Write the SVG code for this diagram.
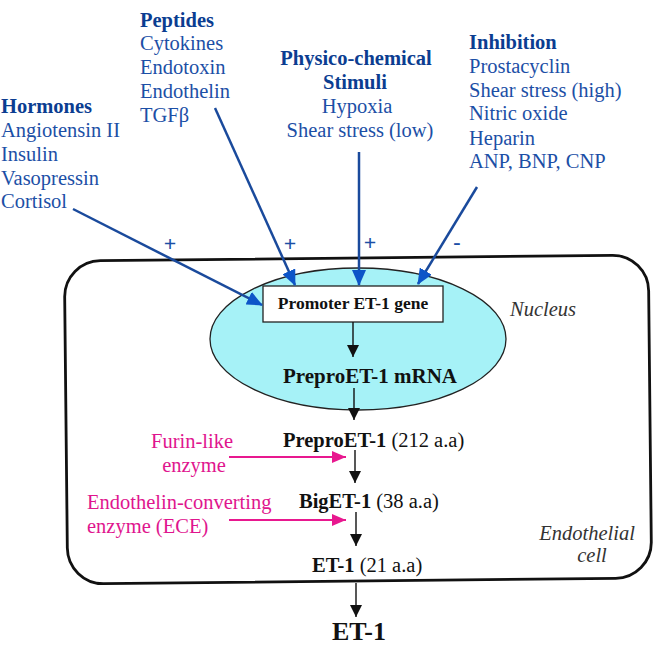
<svg xmlns="http://www.w3.org/2000/svg" width="654" height="663" viewBox="0 0 654 663">
<style>
  text { font-family: "Liberation Serif", "Times New Roman", serif; }
  .hd { font-size: 20.5px; font-weight: bold; fill: #0b3d91; }
  .bl { font-size: 20.5px; fill: #1c4fa6; }
  .sg { font-size: 22px; font-weight: bold; fill: #1c4fa6; }
  .blk { fill: #111; }
  .mg { font-size: 20.5px; fill: #e0158e; }
  .it { font-size: 20.5px; font-style: italic; fill: #333; }
  .bline { stroke: #1a4a9c; stroke-width: 2.5; fill: none; }
  .kline { stroke: #111; stroke-width: 1.4; fill: none; }
  .mline { stroke: #e8188f; stroke-width: 2; fill: none; }
</style>
<defs>
  <marker id="ab" markerUnits="userSpaceOnUse" markerWidth="16" markerHeight="14" refX="15" refY="7" orient="auto">
    <path d="M0,0 L16,7 L0,14 z" fill="#0d55c8"/>
  </marker>
  <marker id="ak" markerUnits="userSpaceOnUse" markerWidth="12" markerHeight="12" refX="12" refY="6" orient="auto">
    <path d="M0,0 L12,6 L0,12 z" fill="#111"/>
  </marker>
  <marker id="am" markerUnits="userSpaceOnUse" markerWidth="14" markerHeight="12" refX="14" refY="6" orient="auto">
    <path d="M0,0 L14,6 L0,12 z" fill="#e8188f"/>
  </marker>
</defs>
<rect width="654" height="663" fill="#fff"/>

<g id="cell">
  <rect x="66" y="258" width="584" height="323" rx="36" ry="36" fill="none" stroke="#111" stroke-width="2.8" transform="rotate(-0.6 358 420)"/>
  <text class="it" x="587" y="540" text-anchor="middle">Endothelial</text>
  <text class="it" x="592" y="562" text-anchor="middle">cell</text>
</g>

<g id="nucleus">
  <ellipse cx="358" cy="339" rx="148" ry="71" fill="#a6f2f7" stroke="#222" stroke-width="1.3"/>
  <text class="it" x="510" y="316">Nucleus</text>
</g>

<g id="promoter">
  <rect x="263" y="286" width="180" height="36" fill="#fff" stroke="#222" stroke-width="1.3"/>
  <text class="blk" x="353" y="309" text-anchor="middle" font-size="17.5" font-weight="bold">Promoter ET-1 gene</text>
</g>

<g id="mrna">
  <text class="blk" x="370" y="383" text-anchor="middle" font-size="21" font-weight="bold">PreproET-1 mRNA</text>
</g>

<g id="preproet1">
  <text class="blk" x="283" y="447" font-size="20.5"><tspan font-weight="bold">PreproET-1</tspan> (212 a.a)</text>
</g>

<g id="biget1">
  <text class="blk" x="299" y="508" font-size="20.5"><tspan font-weight="bold">BigET-1</tspan> (38 a.a)</text>
</g>

<g id="et1-inner">
  <text class="blk" x="312" y="572" font-size="20.5"><tspan font-weight="bold">ET-1</tspan> (21 a.a)</text>
</g>

<g id="et1-out">
  <text class="blk" x="359" y="640" text-anchor="middle" font-size="26" font-weight="bold">ET-1</text>
</g>

<g id="furin">
  <text class="mg" x="192" y="448" text-anchor="middle">Furin-like</text>
  <text class="mg" x="194" y="472" text-anchor="middle">enzyme</text>
</g>

<g id="ece">
  <text class="mg" x="87" y="509">Endothelin-converting</text>
  <text class="mg" x="87" y="533">enzyme (ECE)</text>
</g>

<g id="hormones">
  <text class="hd" x="1" y="113">Hormones</text>
  <text class="bl" x="1" y="137">Angiotensin II</text>
  <text class="bl" x="1" y="161">Insulin</text>
  <text class="bl" x="1" y="185">Vasopressin</text>
  <text class="bl" x="1" y="208">Cortisol</text>
</g>

<g id="peptides">
  <text class="hd" x="140" y="27">Peptides</text>
  <text class="bl" x="140" y="50">Cytokines</text>
  <text class="bl" x="140" y="74">Endotoxin</text>
  <text class="bl" x="140" y="98">Endothelin</text>
  <text class="bl" x="140" y="122">TGFβ</text>
</g>

<g id="physico">
  <text class="hd" x="356" y="65" text-anchor="middle">Physico-chemical</text>
  <text class="hd" x="355" y="89" text-anchor="middle">Stimuli</text>
  <text class="bl" x="357" y="113" text-anchor="middle">Hypoxia</text>
  <text class="bl" x="360" y="137" text-anchor="middle">Shear stress (low)</text>
</g>

<g id="inhibition">
  <text class="hd" x="469" y="49">Inhibition</text>
  <text class="bl" x="469" y="73">Prostacyclin</text>
  <text class="bl" x="469" y="97">Shear stress (high)</text>
  <text class="bl" x="469" y="120">Nitric oxide</text>
  <text class="bl" x="469" y="145">Heparin</text>
  <text class="bl" x="469" y="168">ANP, BNP, CNP</text>
</g>

<g id="signs">
  <text class="sg" x="170" y="251" text-anchor="middle">+</text>
  <text class="sg" x="290" y="251" text-anchor="middle">+</text>
  <text class="sg" x="370" y="250" text-anchor="middle">+</text>
  <text class="sg" x="457" y="249" text-anchor="middle">-</text>
</g>

<g id="connectors">
  <line class="bline" x1="73" y1="209" x2="262" y2="305" marker-end="url(#ab)"/>
  <line class="bline" x1="215" y1="108" x2="295" y2="285" marker-end="url(#ab)"/>
  <line class="bline" x1="359" y1="152" x2="359" y2="285" marker-end="url(#ab)"/>
  <line class="bline" x1="477" y1="187" x2="418" y2="284" marker-end="url(#ab)"/>
  <line class="kline" x1="353" y1="322" x2="353" y2="357" marker-end="url(#ak)"/>
  <line class="kline" x1="354" y1="388" x2="354" y2="420" marker-end="url(#ak)"/>
  <line class="kline" x1="355" y1="450" x2="355" y2="483" marker-end="url(#ak)"/>
  <line class="kline" x1="356" y1="512" x2="356" y2="546" marker-end="url(#ak)"/>
  <line class="kline" x1="356" y1="583" x2="356" y2="617" marker-end="url(#ak)"/>
  <line class="mline" x1="229" y1="457" x2="346" y2="457" marker-end="url(#am)"/>
  <line class="mline" x1="229" y1="520" x2="346" y2="520" marker-end="url(#am)"/>
</g>
</svg>
